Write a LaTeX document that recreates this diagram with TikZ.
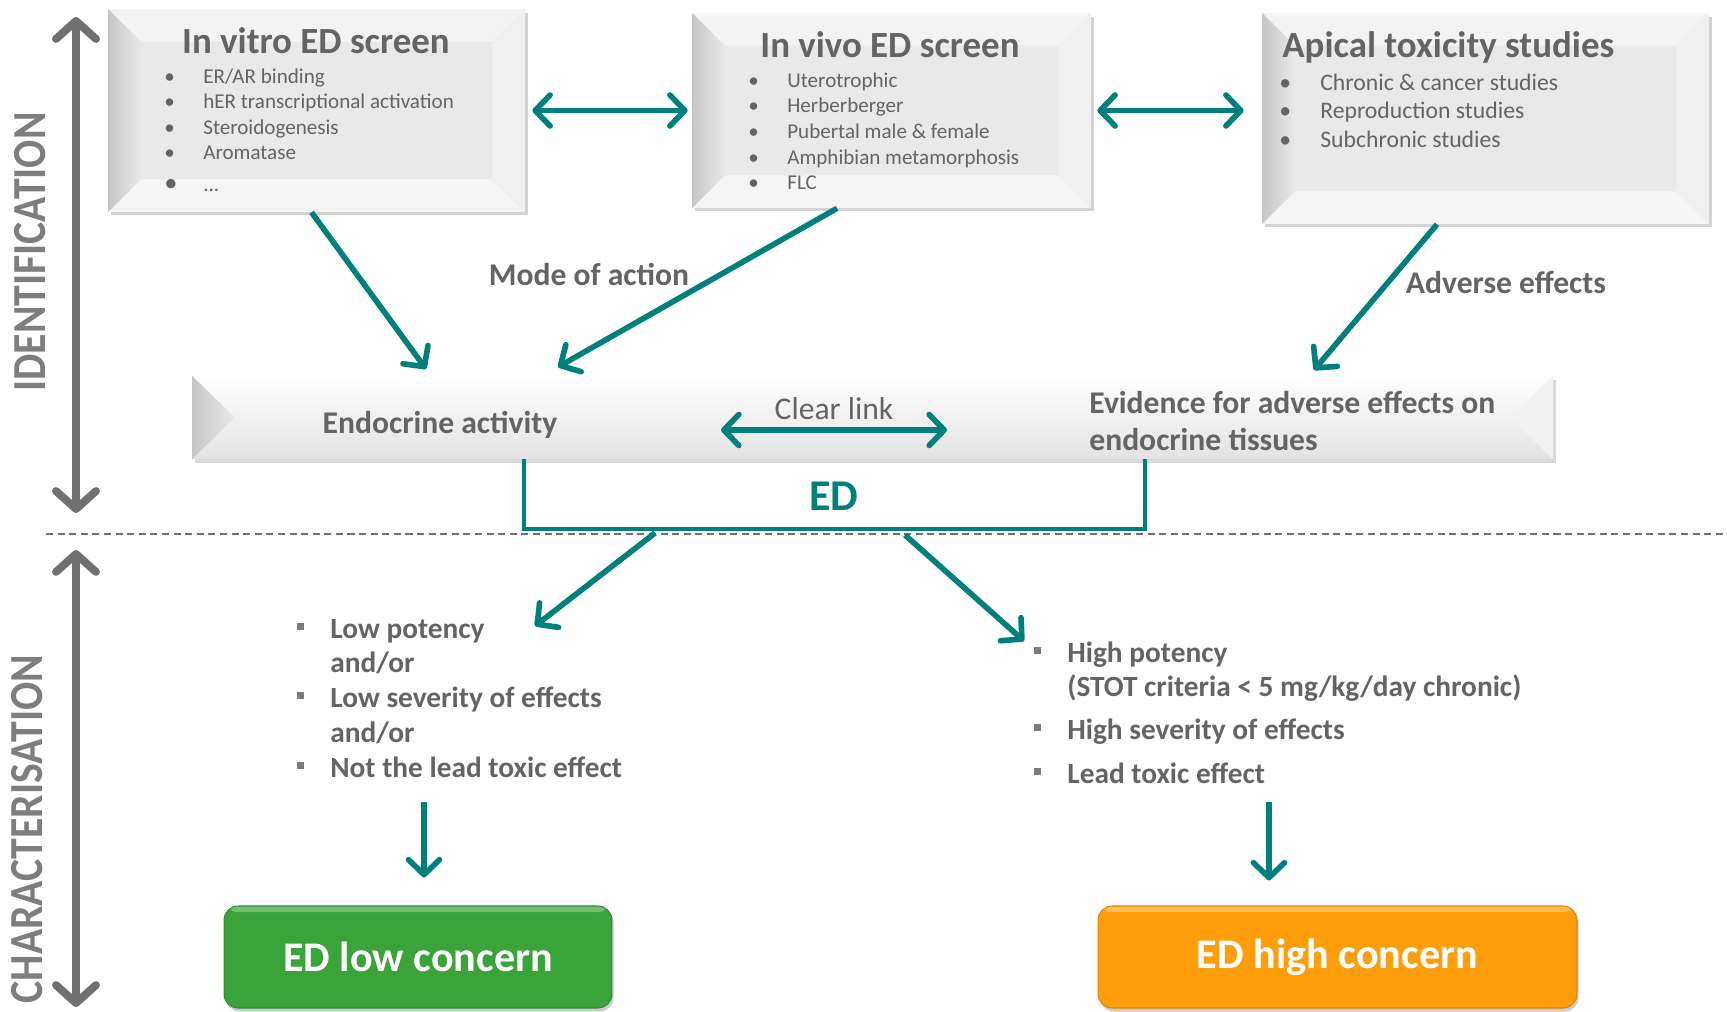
\documentclass[tikz,border=0pt]{standalone}
\usepackage{fontspec}
\setmainfont{Carlito}
\usepackage{graphicx}
\usepackage{tikz}
\usetikzlibrary{arrows.meta,positioning,shadows,calc}
\definecolor{edteal}{RGB}{0,128,124}
\definecolor{textgray}{RGB}{100,100,100}
\definecolor{sidegray}{RGB}{112,112,112}
\definecolor{boxgray}{RGB}{233,233,233}
\definecolor{lowgreen}{RGB}{58,163,58}
\definecolor{highorange}{RGB}{255,158,11}
\newcommand{\sqitem}{\makebox[0.67cm][l]{\textcolor{textgray!85!white}{\rule[4.8pt]{4pt}{4pt}}}}

\begin{document}
\begin{tikzpicture}[x=0.02cm, y=-0.02cm,
    >={Straight Barb[length=0.3cm, width=0.62cm, round]},
    screenbox/.style={fill=boxgray, inner sep=0pt,
        drop shadow={opacity=0.35, shadow xshift=1.5pt, shadow yshift=-2pt},
        path picture={
            \path (path picture bounding box.south west) coordinate (bsw)
                  (path picture bounding box.north east) coordinate (bne);
            \fill[white!45!boxgray] (bsw |- bne) -- (bne) -- ++(-0.65cm,-0.65cm)
                -- ($(bsw |- bne)+(0.65cm,-0.65cm)$) -- cycle;
            \fill[white!55!boxgray] (bsw) -- (bsw -| bne) -- ++(-0.65cm,0.65cm)
                -- ($(bsw)+(0.65cm,0.65cm)$) -- cycle;
            \fill[white!30!boxgray] (bne) -- (bsw -| bne) -- ++(-0.65cm,0.65cm)
                -- ($(bne)+(-0.65cm,-0.65cm)$) -- cycle;
            \shade[left color=gray!45, right color=boxgray] (bsw) -- ($(bsw)+(0.65cm,0.65cm)$)
                -- ($(bsw |- bne)+(0.65cm,-0.65cm)$) -- (bsw |- bne) -- cycle;
        }},
    bandbox/.style={inner sep=0pt, top color=white, bottom color=gray!22,
        drop shadow={opacity=0.3, shadow xshift=1.5pt, shadow yshift=-2pt},
        path picture={
            \path (path picture bounding box.south west) coordinate (bsw)
                  (path picture bounding box.north east) coordinate (bne);
            \shade[left color=gray!45, right color=boxgray] (bsw) -- (bsw |- bne)
                -- ($(bsw)!0.5!(bsw |- bne)+(0.85cm,0)$) -- cycle;
            \fill[white!40!boxgray] (bsw -| bne) -- (bne)
                -- ($(bne)!0.5!(bsw -| bne)+(-0.85cm,0)$) -- cycle;
        }},
    concern/.style={fill=#1, draw=#1!85!black, line width=0.6pt, rounded corners=8pt,
        inner sep=0pt, text=white, font=\fontsize{24}{28}\selectfont\bfseries,
        drop shadow={opacity=0.4, shadow xshift=1pt, shadow yshift=-2pt},
        path picture={\fill[white, opacity=0.3] (path picture bounding box.north west)
            rectangle ([yshift=-0.12cm]path picture bounding box.north east);}},
    head/.style={text=textgray, font=\fontsize{21}{25}\selectfont\bfseries, inner sep=0pt, anchor=base},
    items/.style={text=textgray, inner sep=0pt, anchor=base west},
    lbl/.style={text=textgray, font=\fontsize{18}{21.6}\selectfont\bfseries, inner sep=0pt, anchor=base},
    flow/.style={draw=edteal, line width=3.2pt, ->},
    link/.style={draw=edteal, line width=3.2pt, <->},
    sidearrow/.style={draw=sidegray, line width=4.5pt,
        >={Straight Barb[length=0.36cm, width=0.8cm, round]}, <->},
    phase/.style={text=sidegray!90!white, font=\fontsize{27}{30}\selectfont\bfseries,
        rotate=90, inner sep=0pt}]

    % Page frame
    \useasboundingbox (0,0) rectangle (1727,1011);

    % Screening boxes
    \node[screenbox, minimum width=8.34cm, minimum height=4.06cm] (vitro) at (316.5,110.5) {};
    \node[screenbox, minimum width=7.98cm, minimum height=3.9cm] (vivo) at (891.5,110.5) {};
    \node[screenbox, minimum width=8.94cm, minimum height=4.22cm] (apical) at (1485.5,118.5) {};

    \node[head] (vitrohead) at (316,53) {In vitro ED screen};
    \node[items, font=\fontsize{12}{14.6}\selectfont] (vitrolist) at (164,83) {%
        \begin{tabular}[t]{@{}l@{}}
        \makebox[0.78cm][l]{\textbullet}ER/AR binding\\
        \makebox[0.78cm][l]{\textbullet}hER transcriptional activation\\
        \makebox[0.78cm][l]{\textbullet}Steroidogenesis\\
        \makebox[0.78cm][l]{\textbullet}Aromatase\\[3.5pt]
        \makebox[0.78cm][l]{\fontsize{15}{15}\selectfont\textbullet}...
        \end{tabular}};

    \node[head] (vivohead) at (890,57) {In vivo ED screen};
    \node[items, font=\fontsize{12}{14.65}\selectfont] (vivolist) at (748,87) {%
        \begin{tabular}[t]{@{}l@{}}
        \makebox[0.78cm][l]{\textbullet}Uterotrophic\\
        \makebox[0.78cm][l]{\textbullet}Herberberger\\
        \makebox[0.78cm][l]{\textbullet}Pubertal male \& female\\
        \makebox[0.78cm][l]{\textbullet}Amphibian metamorphosis\\
        \makebox[0.78cm][l]{\textbullet}FLC
        \end{tabular}};

    \node[head, anchor=base west] (apicalhead) at (1282,57) {Apical toxicity studies};
    \node[items, font=\fontsize{13.5}{16.3}\selectfont] (apicallist) at (1279,90) {%
        \begin{tabular}[t]{@{}l@{}}
        \makebox[0.82cm][l]{\textbullet}Chronic \& cancer studies\\
        \makebox[0.82cm][l]{\textbullet}Reproduction studies\\
        \makebox[0.82cm][l]{\textbullet}Subchronic studies
        \end{tabular}};

    % Links between screens
    \draw[link, shorten <=0.14cm, shorten >=0.08cm] (vitro.east) -- (vitro.east -| vivo.west);
    \draw[link, shorten <=0.12cm, shorten >=0.36cm] (vivo.east) -- (vivo.east -| apical.west);

    % Middle band
    \node[bandbox, minimum width=27.22cm, minimum height=1.66cm] (band) at (872.5,417.5) {};
    \node[lbl] (endo) at (440,433) {Endocrine activity};
    \node[lbl, anchor=base west] (evid) at (1089,413) {%
        \begin{tabular}[t]{@{}l@{}}
        Evidence for adverse effects on\\
        endocrine tissues
        \end{tabular}};
    \node[lbl, font=\fontsize{18}{21.6}\selectfont] (clear) at (834,419) {Clear link};
    \coordinate (clA) at (721,430);
    \coordinate (clB) at (947,430);
    \draw[link] (clA) -- (clB);

    % Arrows into the band
    \coordinate (actA) at (426,369);
    \coordinate (actB) at (558,367);
    \coordinate (advA) at (1314,370);
    \draw[flow] ([xshift=-0.1cm]vitro.south) -- (actA);
    \draw[flow] ([xshift=-1.09cm]vivo.south) -- (actB);
    \draw[flow] ([xshift=-0.97cm]apical.south) -- (advA);
    \node[lbl] (moa) at (589,285) {Mode of action};
    \node[lbl] (adv) at (1506,293) {Adverse effects};

    % Divider
    \draw[sidegray, line width=0.8pt, dash pattern=on 4pt off 2.6pt] (46,534) -- (1727,534);

    % ED bracket
    \coordinate (edL) at (524,459);
    \coordinate (edR) at (1145,459);
    \draw[draw=edteal, line width=2pt] (edL) -- ++(0,70) -| (edR);
    \node[lbl, text=edteal, font=\fontsize{25}{30}\selectfont\bfseries] (ed) at (834,510) {ED};

    % Side arrows
    \coordinate (idTop) at (76,17);
    \coordinate (idBot) at (76,513);
    \coordinate (chTop) at (76,550);
    \coordinate (chBot) at (76,1007);
    \draw[sidearrow] (idTop) -- (idBot);
    \draw[sidearrow] (chTop) -- (chBot);
    \node[phase] (ident) at (30,252) {\scalebox{0.88}[1]{IDENTIFICATION}};
    \node[phase] (charac) at (27,829) {\scalebox{0.88}[1]{CHARACTERISATION}};

    % Characterisation
    \coordinate (edLow) at (655,533);
    \coordinate (lowIn) at (535,626);
    \coordinate (edHigh) at (905,535);
    \coordinate (highIn) at (1024,641);
    \draw[flow] (edLow) -- (lowIn);
    \draw[flow] (edHigh) -- (highIn);

    \node[items, font=\fontsize{16.7}{19.8}\selectfont\bfseries] (lowlist) at (296.5,638) {%
        \begin{tabular}[t]{@{}l@{}}
        \sqitem Low potency\\
        \hspace*{0.67cm}and/or\\
        \sqitem Low severity of effects\\
        \hspace*{0.67cm}and/or\\
        \sqitem Not the lead toxic effect
        \end{tabular}};
    \node[items, font=\fontsize{16.7}{19.8}\selectfont\bfseries] (highlist) at (1033.5,662) {%
        \begin{tabular}[t]{@{}l@{}}
        \sqitem High potency\\
        \hspace*{0.67cm}(STOT criteria < 5 mg/kg/day chronic)\\[4.6pt]
        \sqitem High severity of effects\\[5pt]
        \sqitem Lead toxic effect
        \end{tabular}};

    % Outcomes
    \node[concern=lowgreen, minimum width=7.76cm, minimum height=2.04cm] (lowbox) at (418,957) {ED low concern};
    \node[concern=highorange, minimum width=9.58cm, minimum height=2.04cm] (highbox) at (1337.5,957) {ED high concern};

    \coordinate (downL) at (424,802);
    \coordinate (downR) at (1269,802);
    \draw[flow, shorten >=0.56cm] (downL) -- (downL |- lowbox.north);
    \draw[flow, shorten >=0.5cm] (downR) -- (downR |- highbox.north);
\end{tikzpicture}
\end{document}
